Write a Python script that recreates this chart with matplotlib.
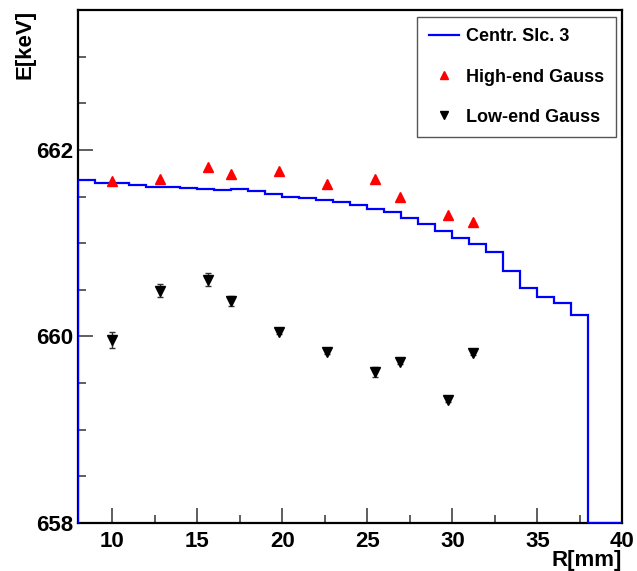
import numpy as np
import matplotlib
matplotlib.use('Agg')
import matplotlib.pyplot as plt
from matplotlib.ticker import MultipleLocator
from matplotlib.lines import Line2D

plt.rcParams['font.family'] = ['Liberation Sans', 'DejaVu Sans']
plt.rcParams['font.weight'] = 'bold'

# histogram "Centr. Slc. 3", 1 mm bins from 8 to 40
bin_edges = np.arange(8, 41, 1)
slice_vals = [661.68, 661.65, 661.65, 661.62, 661.60, 661.60, 661.59, 661.58,
              661.57, 661.58, 661.555, 661.53, 661.50, 661.48, 661.46, 661.44,
              661.41, 661.37, 661.33, 661.27, 661.21, 661.13, 661.06, 660.99,
              660.91, 660.70, 660.52, 660.42, 660.36, 660.23, 0.0, 0.0]

# gauss fit points
r_pts = [10.0, 12.8, 15.65, 17.0, 19.8, 22.65, 25.45, 26.95, 29.75, 31.2]
high_end = [661.67, 661.69, 661.82, 661.74, 661.77, 661.63, 661.69, 661.50, 661.30, 661.23]
low_end = [659.96, 660.49, 660.61, 660.38, 660.05, 659.83, 659.62, 659.73, 659.32, 659.82]
low_err = [0.085, 0.07, 0.07, 0.05, 0.02, 0.02, 0.05, 0.02, 0.02, 0.02]

ymin, ymax = 658, 663.5

fig = plt.figure(figsize=(6.37, 5.71), dpi=100)
ax = fig.add_axes([0.123, 0.084, 0.854, 0.8985])

# ROOT draws empty bins along the frame bottom
ax.stairs(np.clip(slice_vals, ymin, None), bin_edges, baseline=ymin,
          color='#0000ff', lw=1.6, zorder=3)

ax.plot(r_pts, high_end, '^', color='red', ms=7, zorder=4)
ax.errorbar(r_pts, low_end, yerr=low_err, fmt='v', color='black', ms=7,
            ecolor='#333333', elinewidth=1, capsize=2.5, zorder=4)

ax.set_xlim(8, 40)
ax.set_ylim(ymin, ymax)
ax.xaxis.set_major_locator(MultipleLocator(5))
ax.xaxis.set_minor_locator(MultipleLocator(2.5))
ax.yaxis.set_major_locator(MultipleLocator(2))
ax.yaxis.set_minor_locator(MultipleLocator(0.5))
ax.tick_params(which='both', direction='in', top=False, right=False,
               labelsize=16, color='#333333')
ax.tick_params(which='major', length=11, width=1.1)
ax.tick_params(which='minor', length=6, width=1.1)
ax.tick_params(axis='x', pad=6)
ax.tick_params(axis='y', pad=4)
for s in ax.spines.values():
    s.set_linewidth(1.6)

ax.set_xlabel('R[mm]', fontsize=16, fontweight='bold', loc='right')
ax.xaxis.set_label_coords(1.0, -0.052)
ax.set_ylabel('E[keV]', fontsize=16, fontweight='bold', loc='top')
ax.yaxis.set_label_coords(-0.078, 1.0)

handles = [Line2D([], [], color='#0000ff', lw=1.6),
           Line2D([], [], ls='none', marker='^', color='red', ms=5.5),
           Line2D([], [], ls='none', marker='v', color='black', ms=5.5)]
labels = ['Centr. Slc. 3', 'High-end Gauss', 'Low-end Gauss']
leg = ax.legend(handles, labels, loc='upper right', bbox_to_anchor=(0.988, 0.987),
                fontsize=13, frameon=True, fancybox=False, framealpha=1,
                edgecolor='#555555', borderaxespad=0, borderpad=0.65,
                labelspacing=1.28, handlelength=1.65, handletextpad=0.4)
leg.get_frame().set_linewidth(1.0)
for t in leg.get_texts():
    t.set_fontweight('bold')

fig.savefig('out.png', dpi=100)
